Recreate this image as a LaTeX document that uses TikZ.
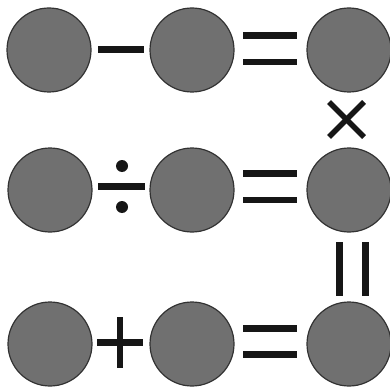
\documentclass[tikz,border=0pt]{standalone}
\definecolor{ballfill}{RGB}{112,112,112}
\definecolor{balledge}{RGB}{50,50,50}
\definecolor{opink}{RGB}{22,22,22}
\begin{document}
\begin{tikzpicture}[x=1pt,y=-1pt,
  ball/.style={circle,minimum size=84pt,inner sep=0pt,fill=ballfill,draw=balledge,line width=1.2pt},
  opbar/.style={draw=opink,line width=6.5pt},
  opthin/.style={draw=opink,line width=5.5pt}]
\useasboundingbox (0,0) rectangle (390,390);
% row 1
\node[ball] (a1) at (49,50) {};
\node[ball] (a2) at (192,50) {};
\node[ball] (a3) at (349,50) {};
% row 2
\node[ball] (b1) at (50,190) {};
\node[ball] (b2) at (192,190) {};
\node[ball] (b3) at (349,190) {};
% row 3
\node[ball] (c1) at (50,344) {};
\node[ball] (c2) at (192,344) {};
\node[ball] (c3) at (349,344) {};
% minus
\draw[opbar] (98,49.5) -- (144,49.5);
% equals row 1
\draw[opbar] (243,35.5) -- (297,35.5);
\draw[opbar] (243,62) -- (297,62);
% times
\draw[opthin] (329,102) -- (364,137);
\draw[opthin] (329,137) -- (364,102);
% divide
\draw[opbar] (98,186.5) -- (145,186.5);
\fill[opink] (122,166) circle (6);
\fill[opink] (122,207) circle (6);
% equals row 2
\draw[opbar] (243,173.5) -- (297,173.5);
\draw[opbar] (243,200) -- (297,200);
% vertical equals
\draw[opbar] (339.5,242) -- (339.5,296);
\draw[opbar] (365.5,242) -- (365.5,296);
% plus
\draw[opbar] (97,342.5) -- (143,342.5);
\draw[opbar] (120,317) -- (120,368);
% equals row 3
\draw[opbar] (243,328.5) -- (297,328.5);
\draw[opbar] (243,354.5) -- (297,354.5);
\end{tikzpicture}
\end{document}
